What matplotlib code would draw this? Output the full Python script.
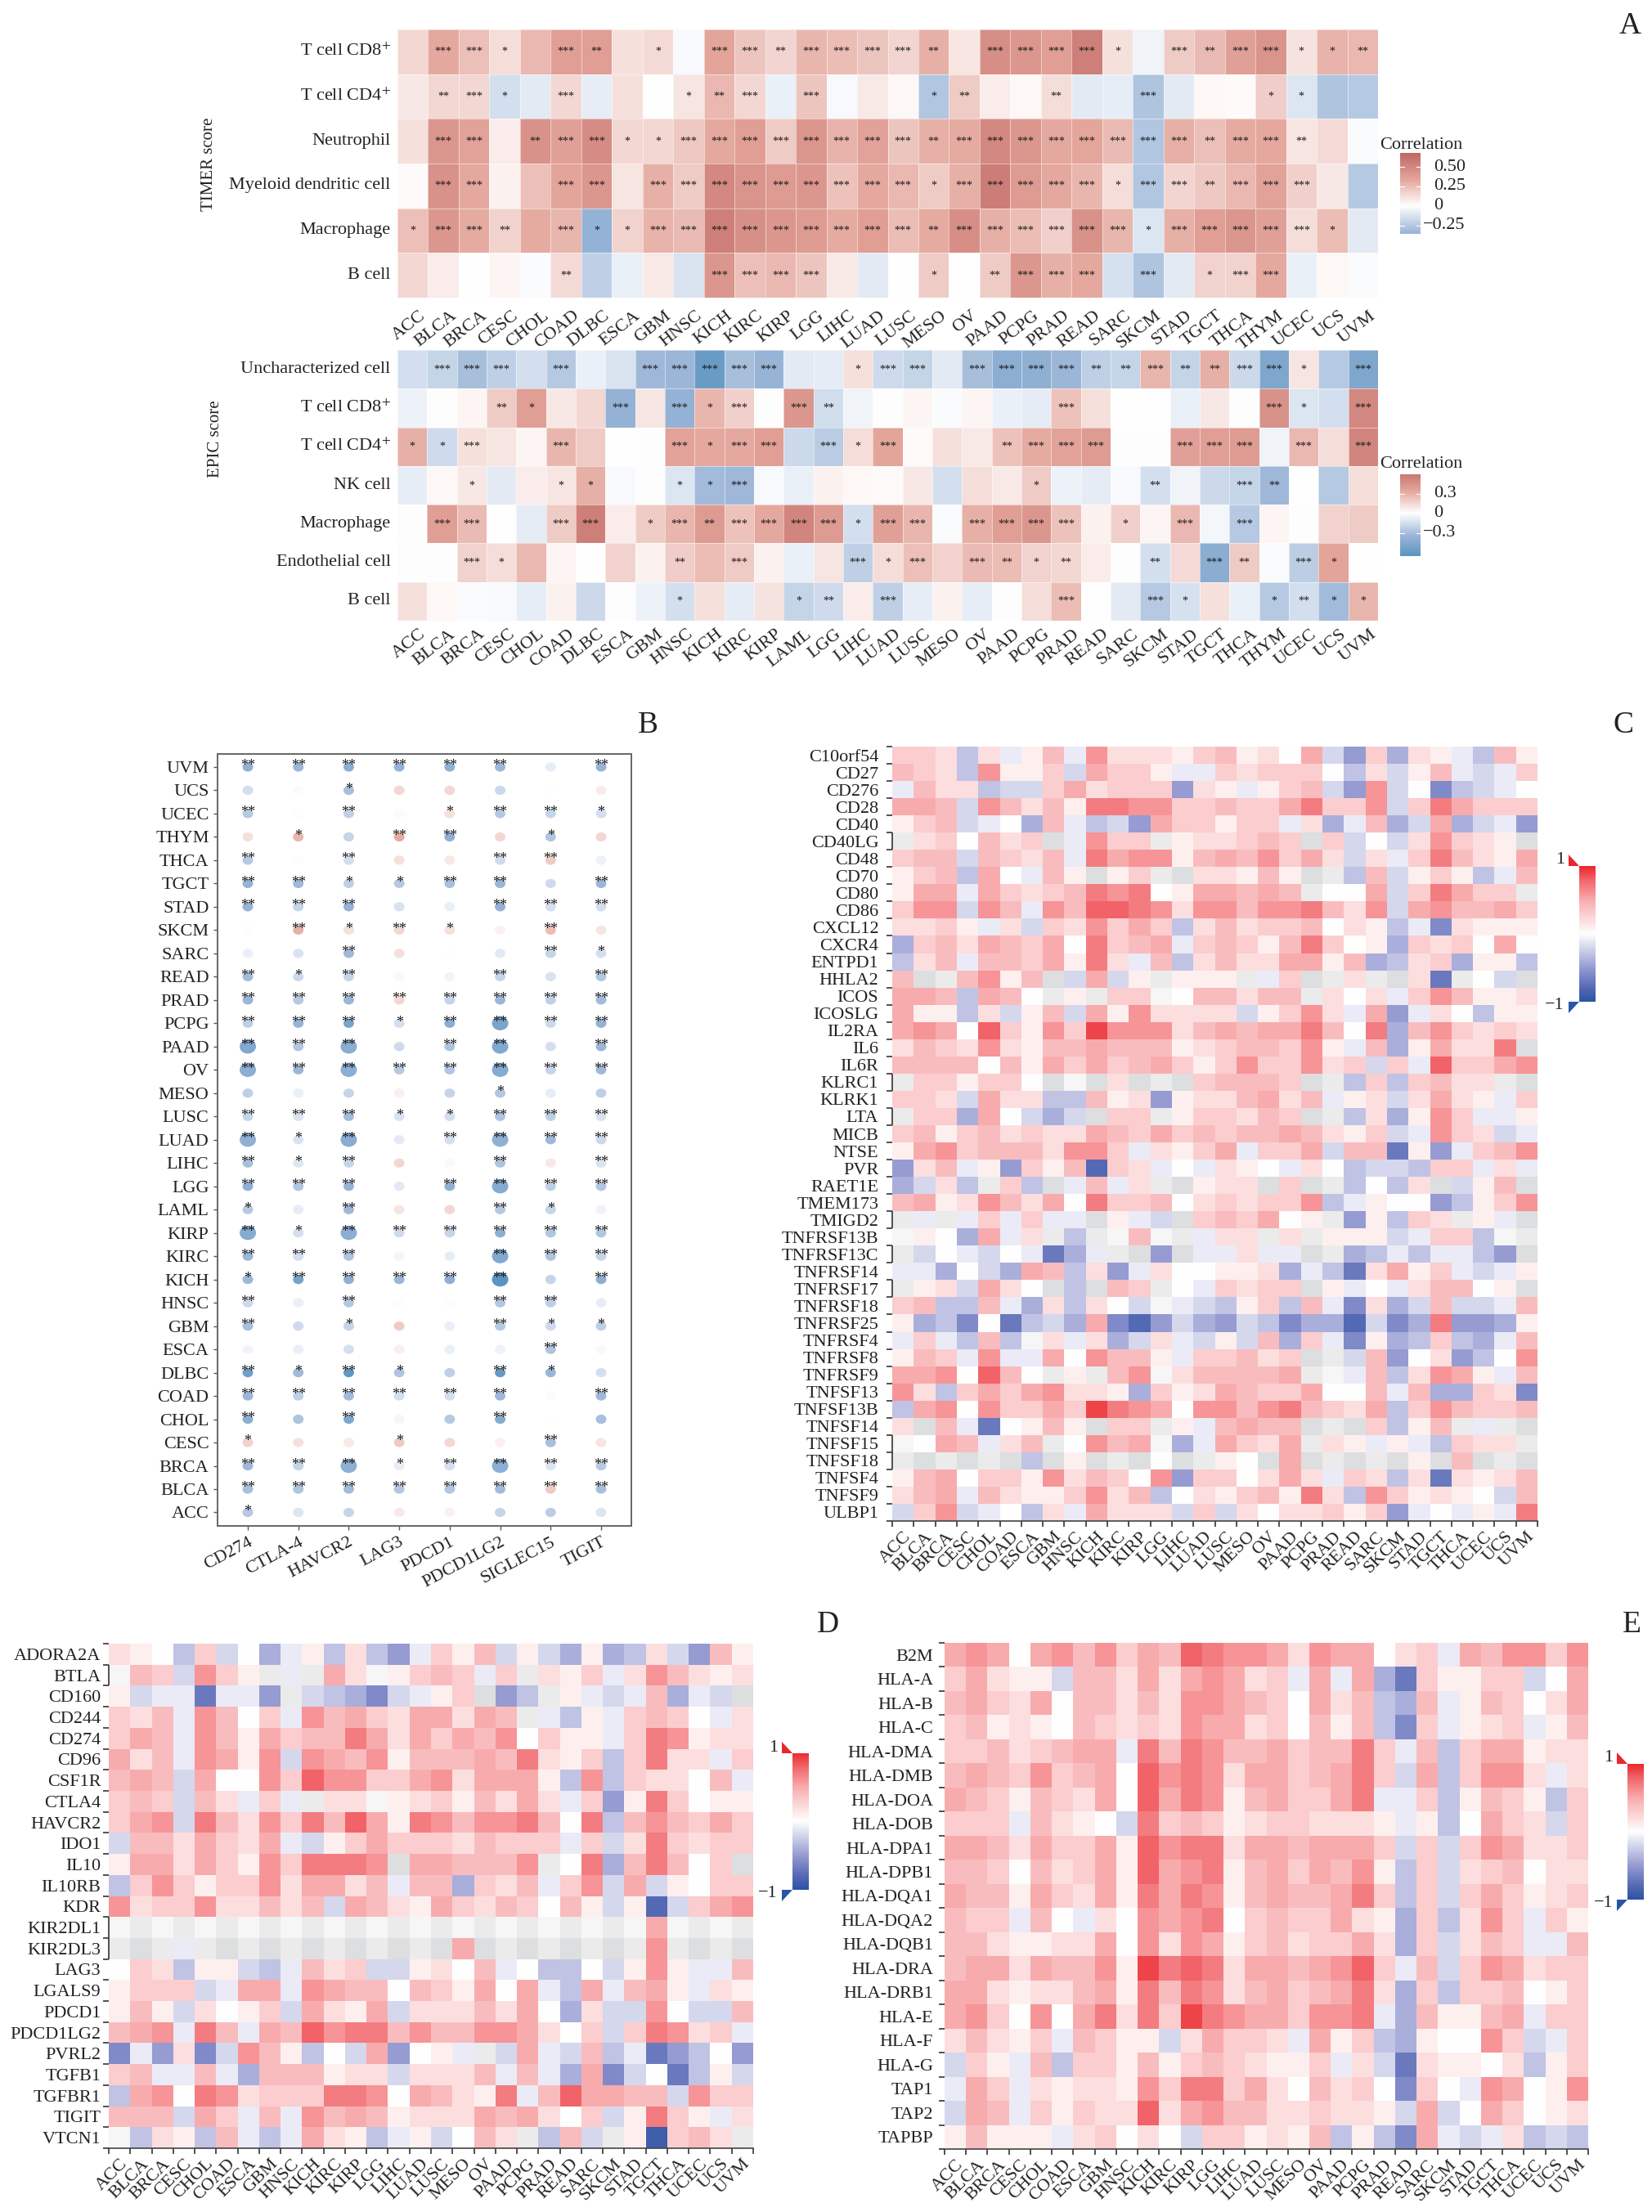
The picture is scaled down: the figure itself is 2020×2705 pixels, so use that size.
import numpy as np
import matplotlib
matplotlib.use("Agg")
import matplotlib.pyplot as plt
from matplotlib.colors import LinearSegmentedColormap, ListedColormap, Normalize
from matplotlib.patches import Polygon
from matplotlib.path import Path
from matplotlib.transforms import Affine2D

plt.rcParams['font.family'] = ['Liberation Serif', 'DejaVu Serif']
plt.rcParams['mathtext.fontset'] = 'stix'

W, H = 2020, 2705
TXT = '#222222'
G1, G2, G3 = 101, 102, 103  # grey (no-data style) cells

# ---------- panel A ----------
timer_cols = "ACC BLCA BRCA CESC CHOL COAD DLBC ESCA GBM HNSC KICH KIRC KIRP LGG LIHC LUAD LUSC MESO OV PAAD PCPG PRAD READ SARC SKCM STAD TGCT THCA THYM UCEC UCS UVM".split()
timer_rows = ['T cell CD8$^{+}$', 'T cell CD4$^{+}$', 'Neutrophil', 'Myeloid dendritic cell', 'Macrophage', 'B cell']
timer_vals = [
 [.15,.33,.24,.13,.27,.38,.38,.12,.14,-.03,.35,.22,.16,.28,.25,.22,.16,.30,.10,.47,.42,.38,.55,.12,-.05,.2,.26,.37,.44,.11,.29,.27],
 [.09,.15,.15,-.15,-.10,.15,-.08,.12,0,.10,.27,.15,-.07,.22,-.03,.08,.03,-.27,.2,.07,.03,.13,-.10,-.08,-.28,-.10,.03,.02,.19,-.12,-.28,-.25],
 [.12,.42,.36,.07,.45,.37,.48,.15,.15,.21,.33,.38,.2,.42,.29,.36,.22,.3,.32,.5,.43,.33,.34,.26,-.27,.3,.24,.32,.33,.1,.14,-.02],
 [.02,.45,.33,.05,.24,.35,.43,.1,.3,.2,.5,.44,.4,.42,.23,.33,.27,.2,.3,.56,.4,.33,.28,.13,-.27,.16,.21,.27,.36,.18,.09,-.25],
 [.24,.42,.32,.17,.32,.28,-.38,.17,.29,.26,.55,.46,.42,.4,.32,.38,.25,.32,.47,.3,.25,.18,.45,.28,-.12,.3,.38,.43,.37,.13,.25,-.1],
 [.15,.07,0,.04,-.02,.14,-.22,-.07,.08,-.13,.43,.24,.27,.22,.08,-.1,0,.2,0,.2,.43,.3,.33,-.14,-.28,-.1,.17,.17,.33,-.07,.03,-.02],
]
timer_stars = [
 [0,3,3,1,0,3,2,0,1,0,3,3,2,3,3,3,3,2,0,3,3,3,3,1,0,3,2,3,3,1,1,2],
 [0,2,3,1,0,3,0,0,0,1,2,3,0,3,0,0,0,1,2,0,0,2,0,0,3,0,0,0,1,1,0,0],
 [0,3,3,0,2,3,3,1,1,3,3,3,3,3,3,3,3,2,3,3,3,3,3,3,3,3,2,3,3,2,0,0],
 [0,3,3,0,0,3,3,0,3,3,3,3,3,3,3,3,3,1,3,3,3,3,3,1,3,3,2,3,3,3,0,0],
 [1,3,3,2,0,3,1,1,3,3,3,3,3,3,3,3,3,2,3,3,3,3,3,3,1,3,3,3,3,3,1,0],
 [0,0,0,0,0,2,0,0,0,0,3,3,3,3,0,0,0,1,0,2,3,3,3,0,3,0,1,3,3,0,0,0],
]
epic_cols = "ACC BLCA BRCA CESC CHOL COAD DLBC ESCA GBM HNSC KICH KIRC KIRP LAML LGG LIHC LUAD LUSC MESO OV PAAD PCPG PRAD READ SARC SKCM STAD TGCT THCA THYM UCEC UCS UVM".split()
epic_rows = ['Uncharacterized cell', 'T cell CD8$^{+}$', 'T cell CD4$^{+}$', 'NK cell', 'Macrophage', 'Endothelial cell', 'B cell']
epic_vals = [
 [-.15,-.2,-.3,-.22,-.15,-.25,-.07,-.13,-.33,-.35,-.58,-.3,-.37,-.1,-.09,.12,-.17,-.2,-.1,-.3,-.42,-.4,-.35,-.22,-.2,.28,-.2,.3,-.18,-.48,.1,-.25,-.48],
 [-.06,-.01,.04,.2,.38,.09,.15,-.38,.1,-.38,.28,.18,.01,.42,-.16,-.05,.01,.04,-.02,.04,-.07,-.09,.23,.12,0,0,-.07,.09,-.01,.45,-.12,-.15,.5],
 [.3,-.17,.12,.1,.04,.28,.2,0,.01,.36,.33,.33,.38,-.18,-.24,.13,.35,.02,.12,.08,.23,.32,.36,.4,.01,.01,.37,.38,.4,-.05,.27,.13,.52],
 [-.08,.03,.09,-.1,.07,.1,.3,-.03,-.01,-.12,-.32,-.33,-.03,-.07,.05,.03,.02,.09,-.15,.13,.08,.2,-.06,-.09,-.03,-.15,-.05,-.18,-.2,-.33,0,-.25,.13],
 [.01,.38,.26,0,-.09,.2,.55,.07,.2,.28,.4,.23,.33,.52,.4,-.15,.37,.28,-.02,.3,.38,.42,.23,.05,.18,.04,.27,-.04,-.25,.04,-.01,.17,.2],
 [.01,.01,.17,.13,.27,.04,0,.17,.05,.19,.25,.2,.05,-.07,.1,-.22,.13,.24,.17,.26,.25,.17,.15,.07,-.01,-.15,.14,-.43,.2,-.02,-.23,.35,0],
 [.12,.03,-.02,-.03,-.08,.05,-.18,.01,-.06,-.15,.12,-.09,.11,-.2,-.17,.07,-.22,-.08,.05,-.08,.01,.13,.25,0,-.1,-.25,-.14,.12,-.07,-.25,-.15,-.32,.28],
]
epic_stars = [
 [0,3,3,3,0,3,0,0,3,3,3,3,3,0,0,1,3,3,0,3,3,3,3,2,2,3,2,2,3,3,1,0,3],
 [0,0,0,2,1,0,0,3,0,3,1,3,0,3,2,0,0,0,0,0,0,0,3,0,0,0,0,0,0,3,1,0,3],
 [1,1,3,0,0,3,0,0,0,3,1,3,3,0,3,1,3,0,0,0,2,3,3,3,0,0,3,3,3,0,3,0,3],
 [0,0,1,0,0,1,1,0,0,1,1,3,0,0,0,0,0,0,0,0,0,1,0,0,0,2,0,0,3,2,0,0,0],
 [0,3,3,0,0,3,3,0,1,3,2,3,3,3,3,1,3,3,0,3,3,3,3,0,1,0,3,0,3,0,0,0,0],
 [0,0,3,1,0,0,0,0,0,2,0,3,0,0,0,3,1,3,0,3,2,1,2,0,0,2,0,3,2,0,3,1,0],
 [0,0,0,0,0,0,0,0,0,1,0,0,0,1,2,0,3,0,0,0,0,0,3,0,0,3,1,0,0,1,2,1,1],
]

# ---------- panel B ----------
b_rows = "UVM UCS UCEC THYM THCA TGCT STAD SKCM SARC READ PRAD PCPG PAAD OV MESO LUSC LUAD LIHC LGG LAML KIRP KIRC KICH HNSC GBM ESCA DLBC COAD CHOL CESC BRCA BLCA ACC".split()
b_cols = ['CD274', 'CTLA-4', 'HAVCR2', 'LAG3', 'PDCD1', 'PDCD1LG2', 'SIGLEC15', 'TIGIT']
b_vals = [
 [-.4,-.35,-.42,-.38,-.4,-.33,-.08,-.37],
 [-.15,-.02,-.3,.15,.15,-.18,0,.07],
 [-.25,-.01,-.22,.02,.12,-.25,-.2,-.15],
 [.12,.28,-.2,.32,-.4,.15,-.27,.15],
 [-.25,-.01,-.15,.12,.08,-.17,.2,-.06],
 [-.37,-.33,-.22,-.25,-.3,-.35,-.17,-.35],
 [-.37,-.2,-.37,-.13,-.07,-.38,-.15,-.15],
 [-.01,.3,.12,.15,.12,.05,.25,.1],
 [-.07,-.13,-.33,.12,0,-.1,-.2,-.15],
 [-.32,-.18,-.2,.03,.05,-.2,-.13,-.27],
 [-.35,-.25,-.35,.15,-.2,-.35,-.22,-.32],
 [-.22,-.37,-.5,-.15,-.42,-.5,-.18,-.38],
 [-.47,-.27,-.43,-.17,-.28,-.47,-.15,-.35],
 [-.42,-.35,-.42,-.25,-.27,-.45,-.2,-.33],
 [-.22,-.07,-.2,.06,-.2,-.27,-.08,-.22],
 [-.2,-.13,-.32,-.13,-.15,-.28,-.22,-.13],
 [-.4,-.13,-.43,-.1,-.15,-.4,-.33,-.18],
 [-.3,-.12,-.2,.15,-.03,-.28,.08,-.13],
 [-.4,-.27,-.37,-.1,-.4,-.45,-.22,-.27],
 [-.25,-.08,-.33,.1,.15,-.25,-.2,-.05],
 [-.45,-.15,-.42,-.17,-.2,-.42,-.27,-.27],
 [-.35,-.15,-.28,-.04,-.08,-.47,-.28,-.2],
 [-.33,-.52,-.4,-.35,-.4,-.65,-.2,-.42],
 [-.18,-.07,-.25,.01,.01,-.27,-.22,-.08],
 [-.3,-.17,-.2,.2,-.07,-.25,-.17,-.22],
 [-.05,-.07,-.15,.06,-.07,-.06,-.28,-.03],
 [-.55,-.32,-.62,-.28,-.22,-.6,-.35,-.15],
 [-.35,-.22,-.32,-.15,-.15,-.33,-.02,-.33],
 [-.42,-.28,-.47,-.04,-.25,-.45,0,-.3],
 [.17,.12,.08,.2,.15,.05,-.3,.1],
 [-.33,-.2,-.4,-.08,-.15,-.42,-.12,-.25],
 [-.3,-.28,-.32,-.27,-.27,-.32,.2,-.3],
 [-.25,-.12,-.2,.08,.05,-.2,-.23,-.12],
]
b_stars = [
 [2,2,2,2,2,2,0,2],[0,0,1,0,0,0,0,0],[2,0,2,0,1,2,2,1],[0,1,0,2,2,0,1,0],[2,0,2,0,0,2,2,0],
 [2,2,1,1,2,2,0,2],[2,2,2,0,0,2,2,2],[0,2,1,2,1,0,2,0],[0,0,2,0,0,0,2,1],[2,1,2,0,0,2,0,2],
 [2,2,2,2,2,2,2,2],[2,2,2,1,2,2,2,2],[2,2,2,0,2,2,0,2],[2,2,2,2,2,2,2,2],[0,0,0,0,0,1,0,0],
 [2,2,2,1,1,2,2,2],[2,1,2,0,2,2,2,2],[2,1,2,0,0,2,0,2],[2,2,2,0,2,2,2,2],[1,0,2,0,0,2,1,0],
 [2,1,2,2,2,2,2,2],[2,2,2,0,0,2,2,2],[1,2,2,2,2,2,0,2],[2,0,2,0,0,2,2,0],[2,0,1,0,0,2,1,1],
 [0,0,0,0,0,0,2,0],[2,1,2,1,0,2,1,0],[2,2,2,2,2,2,0,2],[2,0,2,0,0,2,0,0],[1,0,0,1,0,0,2,0],
 [2,2,2,1,2,2,2,2],[2,2,2,2,2,2,2,2],[1,0,0,0,0,0,0,0],
]
b_large = {'PAAD': ['CD274', 'HAVCR2', 'PDCD1LG2'], 'OV': ['CD274', 'HAVCR2', 'PDCD1LG2'],
           'LUAD': ['CD274', 'HAVCR2', 'PDCD1LG2'], 'KIRP': ['CD274', 'HAVCR2'],
           'PCPG': ['PDCD1LG2'], 'LGG': ['PDCD1LG2'], 'KIRC': ['PDCD1LG2'], 'KICH': ['PDCD1LG2'],
           'BRCA': ['HAVCR2', 'PDCD1LG2']}

# ---------- panels C, D, E ----------
tumors = "ACC BLCA BRCA CESC CHOL COAD ESCA GBM HNSC KICH KIRC KIRP LGG LIHC LUAD LUSC MESO OV PAAD PCPG PRAD READ SARC SKCM STAD TGCT THCA UCEC UCS UVM".split()
c_rows = "C10orf54 CD27 CD276 CD28 CD40 CD40LG CD48 CD70 CD80 CD86 CXCL12 CXCR4 ENTPD1 HHLA2 ICOS ICOSLG IL2RA IL6 IL6R KLRC1 KLRK1 LTA MICB NTSE PVR RAET1E TMEM173 TMIGD2 TNFRSF13B TNFRSF13C TNFRSF14 TNFRSF17 TNFRSF18 TNFRSF25 TNFRSF4 TNFRSF8 TNFRSF9 TNFSF13 TNFSF13B TNFSF14 TNFSF15 TNFSF18 TNFSF4 TNFSF9 ULBP1".split()
c_vals = [
 [3,3,2,-3,2,-1,1,4,-1,6,2,2,2,1,3,4,1,2,0,5,-2,-5,3,-4,2,1,-1,-3,4,1],
 [4,3,2,-3,6,1,1,3,-2,5,3,3,1,-1,-1,3,2,3,3,3,0,-3,2,-2,1,4,-1,-2,-1,3],
 [-1,4,2,2,-3,-2,-2,3,5,2,3,3,3,-5,2,1,-1,1,3,4,-2,-5,6,-2,0,-6,-3,-2,-1,0],
 [5,5,4,-2,6,4,2,4,1,7,7,6,6,3,3,4,3,3,5,7,3,3,6,-2,3,7,5,3,3,3],
 [1,3,4,-2,-1,0,-4,4,-1,-3,-2,-5,5,3,3,1,3,3,-1,2,-4,-1,4,-4,-2,5,-4,-2,-1,-5],
 [G2,2,3,0,4,2,3,G3,-1,6,3,3,G2,1,2,2,3,4,3,G3,3,-2,0,-2,2,6,3,2,1,G3],
 [3,4,4,-2,4,3,2,4,-1,7,5,6,6,1,4,5,4,6,3,5,2,-2,2,-1,3,7,4,2,1,5],
 [1,3,4,-3,5,0,-1,4,1,G3,1,3,G2,G3,2,2,1,4,1,G3,G2,-3,4,-2,1,3,1,-3,-1,4],
 [1,5,5,-1,5,3,2,3,4,7,6,7,0,1,5,5,4,5,4,G2,0,0,5,-2,3,7,5,3,3,G2],
 [3,6,6,-2,6,4,-1,6,4,8,8,7,6,2,6,6,4,6,6,7,4,2,6,-2,5,6,4,4,5,3],
 [2,2,3,1,-1,2,-2,3,2,6,3,5,3,-3,2,4,2,3,3,4,0,2,1,-3,-1,-6,2,1,1,1],
 [-4,3,4,2,5,4,3,5,0,7,3,4,5,-1,3,4,3,1,4,7,3,0,1,-4,3,2,3,0,5,0],
 [-3,2,4,-1,4,4,3,5,1,7,2,-1,4,-3,2,4,2,2,5,5,1,4,-4,-3,2,3,-4,1,1,-3],
 [4,G3,G2,4,6,1,4,G3,-2,5,-2,1,G2,1,1,1,G2,-1,3,G3,G2,2,G2,G3,2,-7,G2,0,-2,G3],
 [5,5,4,-3,5,4,0,G2,1,G2,3,3,G1,0,4,4,2,4,4,G2,2,0,2,-1,3,6,4,1,1,2],
 [5,1,1,-3,2,-2,1,4,-2,5,1,6,2,2,2,2,-2,1,3,6,2,-1,5,-5,-1,2,0,-3,1,1],
 [5,6,5,0,8,3,1,6,3,9,6,6,6,2,4,5,4,5,5,7,4,0,7,-4,4,6,3,2,3,2],
 [2,4,3,2,6,2,1,4,4,5,4,4,4,1,2,3,4,4,3,6,1,-1,4,-4,1,5,2,2,7,G3],
 [4,4,4,4,0,4,1,5,3,5,3,4,5,3,1,3,6,3,3,6,2,3,-2,3,-1,8,3,3,5,6],
 [G2,3,3,1,3,3,0,G3,G1,G3,2,G3,G2,G3,3,4,4,4,3,G3,G2,-3,3,-3,3,4,2,2,G2,G3],
 [3,3,2,-2,5,2,2,-3,-3,4,1,2,-5,1,2,2,4,5,2,4,-1,1,2,-2,2,5,2,1,-1,3],
 [G2,3,3,-4,5,0,-2,-4,-2,G3,3,3,G2,1,3,3,2,4,3,G3,G2,-3,2,-4,1,6,3,-1,-1,1],
 [3,4,1,3,4,2,3,2,2,5,4,3,5,3,4,3,4,4,5,4,2,1,3,-2,-1,6,3,2,-2,-1],
 [1,5,6,3,4,4,4,2,6,6,3,-1,2,1,3,5,-1,3,3,5,-2,4,4,-7,1,-5,-1,3,4,6],
 [-5,2,4,-1,1,-5,3,1,4,-8,3,2,-1,0,-1,2,1,0,-1,2,0,-3,-2,-2,-3,3,3,-1,2,-1],
 [-4,-2,2,-3,G2,3,-3,G3,-1,4,-1,2,G2,G3,1,2,2,G3,3,G3,G2,-3,0,-3,2,G3,-2,1,4,G3],
 [4,5,1,2,6,4,2,5,0,7,3,3,4,0,2,3,2,3,3,6,-3,-1,1,0,0,-5,-3,1,3,6],
 [G2,-1,G2,-1,3,-1,3,-1,-1,G3,1,-1,-2,G3,3,4,3,5,0,1,G2,-5,1,-3,3,2,G2,1,-1,G3],
 [G1,1,0,-4,5,-1,2,G2,-3,G2,G1,4,G1,G2,-1,2,2,G2,2,G2,1,1,1,-2,-1,3,3,-3,G1,G2],
 [G2,-2,0,-1,-2,0,-1,-7,-4,-1,G2,G3,-5,G3,-1,-1,2,-1,-1,G3,G2,-4,-3,-1,-3,-1,-1,-3,-5,G3],
 [-1,-1,-4,0,-2,-4,5,4,-3,2,-5,-1,2,0,0,1,1,2,-4,-1,-3,-7,2,5,1,3,-1,-2,-1,1],
 [G2,1,2,-2,5,2,0,G3,-3,G3,4,3,G2,0,-1,3,2,3,3,G3,1,-1,0,-1,2,4,4,0,1,G3],
 [3,4,-3,-3,4,-1,-4,2,-3,2,0,-2,G1,-1,-2,-3,1,3,-3,4,-1,-6,2,-4,-2,4,-2,-2,-1,4],
 [1,-4,-3,-6,0,-7,-3,-2,-4,5,-6,-8,-5,-2,-4,-5,-2,-3,-6,-4,-4,-8,-2,-6,-4,7,-5,-5,-4,1],
 [-1,3,-1,-3,4,-3,G1,2,-1,2,-4,-2,2,-1,-2,1,-2,4,-4,3,-1,-6,1,-4,-3,3,-3,-4,-1,4],
 [1,4,3,-1,6,-1,-1,5,0,6,4,4,1,-1,3,3,4,2,3,G3,G2,-2,4,-5,0,2,-5,-3,0,6],
 [5,5,6,0,8,4,0,G2,1,G2,4,6,G1,2,4,4,4,4,5,G2,G1,-1,4,-3,2,6,5,1,-1,4],
 [6,2,-3,3,5,3,5,6,2,2,1,-4,3,1,2,5,4,3,3,5,0,0,4,-1,4,-4,-4,3,2,-6],
 [-3,5,6,0,6,3,3,5,3,9,7,6,5,0,6,6,4,6,7,4,3,2,5,-3,3,6,4,3,3,4],
 [2,G3,4,-1,-7,0,1,4,1,G3,3,3,G2,1,-1,4,5,4,4,G3,G2,G3,3,-3,1,4,G2,-1,G2,G3],
 [G1,0,5,4,-1,2,4,G2,0,6,4,5,G1,-4,-1,5,3,2,5,G2,2,1,-1,1,-1,-3,3,2,2,G2],
 [G2,G3,G2,G3,G2,G3,-3,G3,1,G3,G2,G3,0,G3,G2,1,0,G3,5,G3,G2,G3,G2,G3,1,G3,4,G3,G2,G3],
 [1,4,5,0,3,3,1,6,2,4,3,0,6,-5,3,3,0,2,5,2,-1,3,2,-3,2,-7,2,1,2,4],
 [2,4,5,-1,4,2,1,1,3,6,2,4,-3,0,2,1,3,4,1,7,2,-3,6,3,1,2,1,0,-2,4],
 [-2,3,6,-2,-1,0,-3,2,-1,5,2,2,2,-2,3,-2,2,0,2,2,3,1,3,-5,-1,0,-1,1,-1,7],
]
c_bracket = ['CD40LG', 'KLRC1', 'LTA', 'TMIGD2', 'TNFRSF13C', 'TNFRSF17', 'TNFSF15', 'TNFSF18']

d_rows = "ADORA2A BTLA CD160 CD244 CD274 CD96 CSF1R CTLA4 HAVCR2 IDO1 IL10 IL10RB KDR KIR2DL1 KIR2DL3 LAG3 LGALS9 PDCD1 PDCD1LG2 PVRL2 TGFB1 TGFBR1 TIGIT VTCN1".split()
d_vals = [
 [2,1,0,-3,3,-2,0,-4,-1,1,-3,2,-3,-5,-1,3,1,4,-2,1,-2,-4,1,-4,-3,2,-2,-5,4,1],
 [G1,4,3,-2,6,3,1,G2,-1,G2,5,2,G1,1,3,4,3,-1,3,G2,2,1,3,-1,2,6,4,2,1,2],
 [1,-2,-1,-1,-7,-1,-1,-5,G2,-2,-3,-4,-6,-2,-1,1,3,G3,-5,-3,G2,1,-1,-2,-1,4,-4,-1,-2,G3],
 [3,2,4,-1,6,4,0,3,-1,6,4,5,3,2,5,5,2,5,4,G2,-1,-3,1,-1,3,4,3,0,-1,2],
 [3,5,4,-1,6,4,1,5,3,4,4,7,5,2,5,3,5,4,6,0,3,1,1,-1,3,7,6,1,2,2],
 [5,2,4,-1,6,5,1,6,-2,6,5,4,6,1,4,4,4,5,4,7,2,1,3,-3,3,7,2,2,-1,3],
 [4,5,4,-2,5,0,0,6,3,8,6,6,3,3,5,6,2,5,5,5,1,-3,6,-3,3,2,2,0,4,-1],
 [3,4,3,-2,4,2,-1,3,-1,G2,2,2,G1,1,2,3,1,4,2,5,2,-1,3,-5,1,7,3,0,1,1],
 [3,5,6,-2,7,4,2,6,3,7,4,8,5,1,7,6,4,6,6,7,4,0,7,-3,4,6,4,3,5,3],
 [-2,4,4,2,5,3,2,5,-1,-2,1,3,5,3,3,3,2,4,3,3,3,-1,3,-2,2,7,3,2,3,3],
 [1,5,5,2,5,3,1,6,3,7,7,7,6,G3,5,5,4,4,4,6,G2,0,7,-4,4,7,4,0,3,G3],
 [-3,3,6,3,1,3,3,6,2,5,5,2,4,-1,4,4,-4,3,2,4,-1,3,6,-2,5,-2,1,0,3,3],
 [6,2,3,3,6,2,2,4,2,4,-2,5,4,2,1,5,3,2,4,3,0,4,1,-2,1,-8,-2,3,5,6],
 [G1,G2,G1,G2,G1,G2,G1,G2,G1,G2,G1,G2,G1,G2,G1,G2,G1,G2,G1,G2,G1,G2,G1,G2,G1,5,G1,G2,G1,G2],
 [G2,G3,G2,-1,G2,G3,G2,G3,G2,G3,G2,G3,G2,G3,G2,G3,5,G3,G2,G3,G2,G3,G2,G3,G2,6,G2,G3,G2,G3],
 [0,3,2,-3,1,1,-2,-3,-1,4,2,3,-2,-2,1,2,0,4,-1,0,-3,-3,0,-2,1,6,1,-1,-1,4],
 [1,3,3,3,-2,-1,5,5,-1,6,5,4,4,0,4,3,1,5,0,5,-1,-3,5,-1,4,5,1,-1,2,1],
 [1,4,1,-2,2,0,1,3,-2,5,2,1,5,-2,2,2,2,4,2,5,0,-4,2,-2,-2,6,0,-2,-2,4],
 [4,5,6,-1,7,4,-1,5,4,8,6,7,7,4,6,4,4,6,6,5,2,0,3,-2,3,7,6,2,3,-1],
 [-6,-1,-5,2,-6,-2,6,4,1,-3,0,-2,5,-5,0,1,-1,G2,-2,5,-1,-2,4,-3,-1,-7,-5,-3,0,-5],
 [3,4,-1,-1,4,-1,-4,4,4,4,1,2,2,-2,2,2,2,4,-1,4,-1,-4,5,-6,-2,0,-7,-3,1,-2],
 [-3,5,6,0,7,6,2,3,3,3,7,7,6,0,5,4,2,1,7,-1,4,8,5,5,4,4,-2,6,3,3],
 [4,4,4,-2,5,3,-1,4,-1,6,4,5,4,1,2,2,2,5,4,5,2,0,3,-2,1,7,3,1,-1,2],
 [G1,-3,2,1,-3,4,-1,-3,-1,5,2,1,-3,-1,1,-2,0,4,2,G2,-3,4,-2,G2,1,-9,3,4,2,G2],
]
d_bracket = ['BTLA', 'KIR2DL1', 'KIR2DL3']

e_rows = "B2M HLA-A HLA-B HLA-C HLA-DMA HLA-DMB HLA-DOA HLA-DOB HLA-DPA1 HLA-DPB1 HLA-DQA1 HLA-DQA2 HLA-DQB1 HLA-DRA HLA-DRB1 HLA-E HLA-F HLA-G TAP1 TAP2 TAPBP".split()
e_vals = [
 [5,6,5,0,5,6,4,6,3,5,4,8,7,6,6,5,2,6,5,5,0,2,3,-1,5,4,6,6,3,6],
 [3,5,2,1,1,-2,4,4,2,5,2,5,6,5,2,3,-1,5,-1,5,-4,-7,3,1,1,3,3,-2,0,5],
 [4,5,3,2,5,0,4,4,2,4,2,6,6,5,4,3,0,5,2,4,-3,-4,4,-1,1,4,3,0,2,5],
 [3,4,1,2,1,0,4,3,2,3,2,6,5,5,2,3,0,4,1,4,-3,-6,3,-1,1,2,3,-1,1,4],
 [3,3,4,2,3,4,5,5,-1,7,4,7,6,4,4,5,3,4,4,7,3,-1,4,-3,3,5,5,1,2,2],
 [4,5,4,3,6,3,4,5,0,8,6,7,6,2,5,5,3,4,5,7,3,-2,5,-3,3,6,6,2,-1,2],
 [5,4,3,1,4,3,2,5,0,8,5,7,6,1,4,5,3,3,5,7,-1,-1,3,-3,1,4,3,1,-3,3],
 [3,3,3,-1,4,2,1,0,-2,7,3,4,3,1,2,3,3,2,2,2,1,-1,1,-3,0,5,3,2,-2,3],
 [5,5,4,2,5,3,3,5,1,8,6,7,7,2,5,5,4,5,5,5,3,-2,3,-2,3,6,5,2,2,3],
 [4,4,3,0,4,2,3,5,1,8,5,6,7,1,4,5,3,5,4,6,1,-3,3,-2,2,3,4,0,2,2],
 [5,4,4,1,5,3,2,5,1,7,5,7,6,1,4,5,4,4,5,7,3,-3,3,-2,3,5,3,1,2,3],
 [4,3,3,-1,4,0,-1,2,0,6,5,6,7,0,3,4,3,3,5,2,1,-4,3,-3,2,6,3,-1,3,1],
 [4,4,2,1,1,2,2,5,0,6,2,6,5,1,3,4,2,3,3,5,2,-4,3,-2,2,4,3,-1,-1,4],
 [4,5,5,2,5,4,4,6,1,9,7,8,7,2,5,5,4,5,6,8,3,-1,4,-2,3,6,5,2,3,3],
 [5,5,2,1,2,2,4,5,1,7,4,7,6,2,4,5,3,4,5,7,2,-4,3,-3,3,3,4,0,1,3],
 [5,6,3,0,6,0,5,7,2,7,3,9,7,6,5,5,3,6,6,7,-1,-4,4,1,1,4,5,-1,3,3],
 [2,4,2,1,3,-1,4,3,1,1,-2,2,5,3,3,2,-1,5,1,3,-3,-4,1,0,0,6,3,-2,-1,3],
 [-2,3,1,-1,4,-3,3,3,1,4,1,3,4,3,2,1,1,3,-1,2,-2,-7,2,1,1,0,2,-3,1,3],
 [-1,5,3,-1,2,1,2,2,1,6,3,7,7,3,5,2,0,4,2,3,0,-6,3,0,-1,6,5,0,1,6],
 [-2,5,4,-1,3,1,3,2,2,8,2,5,6,4,4,2,2,3,2,2,1,-2,5,-2,0,5,3,0,1,2],
 [1,4,1,1,1,-1,2,3,0,2,0,-2,3,3,1,2,1,4,-3,1,-3,-6,5,-1,-2,-1,2,-3,-2,-3],
]

# ---------- colour maps ----------
cor_cmap = LinearSegmentedColormap.from_list('cor', [
    (0.0, (85/255, 145/255, 190/255)), (0.25, (157/255, 183/255, 216/255)), (0.5, 'white'),
    (0.75, (228/255, 166/255, 156/255)), (1.0, (192/255, 104/255, 100/255))])
cor_norm = Normalize(-0.68, 0.68)
exp_cmap = LinearSegmentedColormap.from_list('exp', [
    (0.0, (42/255, 85/255, 165/255)), (0.1, (85/255, 105/255, 180/255)), (0.25, (150/255, 155/255, 210/255)),
    (0.5, 'white'), (0.75, (248/255, 172/255, 174/255)), (0.9, (241/255, 100/255, 105/255)),
    (1.0, (235/255, 40/255, 45/255))])
exp_norm = Normalize(-1, 1)
grey_cmap = ListedColormap(['#f6f6f6', '#ebebeb', '#dddedf'])

fig = plt.figure(figsize=(W/100, H/100), dpi=100, facecolor='white')


def axpx(x0, y0, x1, y1):
    return fig.add_axes([x0/W, 1-y1/H, (x1-x0)/W, (y1-y0)/H])


def txt(x, y, s, **kw):
    kw.setdefault('color', TXT)
    fig.text(x/W, 1-y/H, s, **kw)


def stars_on(ax, x, y, n, size, up):
    if n:
        ax.annotate('*'*n, (x, y), xytext=(0, -size*0.46+up), textcoords='offset points',
                    ha='center', va='baseline', fontsize=size, color='#1a1a1a', annotation_clip=False)


def corr_panel(box, cols, rows, vals, stars, xpad, cb, cb_ticks, cb_range, title_y, side, side_xy):
    ax = axpx(*box)
    arr = np.array(vals, float)
    ax.pcolormesh(arr, cmap=cor_cmap, norm=cor_norm, edgecolors=(1, 1, 1, 0.5), linewidth=0.7)
    ax.set_xlim(0, arr.shape[1]); ax.set_ylim(arr.shape[0], 0)
    ax.set_xticks(np.arange(arr.shape[1])+0.5, cols, rotation=38, ha='right', va='top', rotation_mode='anchor', fontsize=16, color=TXT)
    ax.set_yticks(np.arange(arr.shape[0])+0.5, rows, fontsize=16, color=TXT)
    ax.tick_params(length=0, axis='y', pad=6)
    ax.tick_params(length=0, axis='x', pad=xpad)
    for lab in ax.get_xticklabels():
        lab.set_transform(lab.get_transform() + Affine2D().translate(8, 0))
    for lab in ax.get_yticklabels():
        lab.set_transform(lab.get_transform() + Affine2D().translate(0, 3))
    for s in ax.spines.values():
        s.set_visible(False)
    for r, row in enumerate(stars):
        for c, n in enumerate(row):
            stars_on(ax, c+0.5, r+0.5, n, 10, 2)
    cax = axpx(*cb)
    g = np.linspace(cb_range[1], cb_range[0], 200)[:, None]
    cax.imshow(g, cmap=cor_cmap, norm=cor_norm, aspect='auto', extent=[0, 1, cb_range[0], cb_range[1]])
    cax.set_xticks([]); cax.set_yticks([])
    for s in cax.spines.values():
        s.set_visible(False)
    for v, lab in cb_ticks:
        cax.plot([0, .2], [v, v], color='white', lw=.8); cax.plot([.8, 1], [v, v], color='white', lw=.8)
        cax.text(1.65 if v >= 0 else 1.1, v, lab, va='center', ha='left', fontsize=16, color=TXT)
    cax.set_xlim(0, 1); cax.set_ylim(*cb_range)
    txt(cb[0]-25, title_y, 'Correlation', fontsize=16, va='center', ha='left')
    txt(side_xy[0], side_xy[1], side, fontsize=15, rotation=90, va='center', ha='center')


corr_panel((486, 36, 1685, 364), timer_cols, timer_rows, timer_vals, timer_stars, 9,
           (1712, 187, 1737, 286), [(.5, '0.50'), (.25, '0.25'), (0, '0'), (-.25, '\u22120.25')], (-.36, .68),
           177, 'TIMER score', (255, 201))
corr_panel((486, 428, 1685, 759), epic_cols, epic_rows, epic_vals, epic_stars, 5,
           (1712, 580, 1737, 680), [(.3, '0.3'), (0, '0'), (-.3, '\u22120.3')], (-.65, .6),
           568, 'EPIC score', (264, 537))

# ---------- panel B ----------
ax = axpx(266, 922, 772, 1866)
bv = np.array(b_vals)
xx, yy = np.meshgrid(np.arange(8), np.arange(len(b_rows)))
sizes = np.full(bv.shape, 13.0)
for t, genes in b_large.items():
    for g in genes:
        sizes[b_rows.index(t), b_cols.index(g)] = 20.0
ell = Path.unit_circle().transformed(Affine2D().scale(1, 0.87))
ax.scatter(xx.ravel(), yy.ravel(), c=bv.ravel(), cmap=cor_cmap, norm=cor_norm,
           s=(sizes.ravel()*0.72)**2, marker=ell, linewidths=0)
ax.set_xlim(-0.6, 7.6); ax.set_ylim(len(b_rows)-1+0.58, -0.56)
ax.set_xticks(range(8), b_cols, rotation=28, ha='right', va='top', rotation_mode='anchor', fontsize=16, color=TXT)
ax.set_yticks(range(len(b_rows)), b_rows, fontsize=16, color=TXT)
ax.tick_params(length=3.5, width=1, color='#555555', pad=4)
for s in ax.spines.values():
    s.set_color('#666666'); s.set_linewidth(1.4)
for r, row in enumerate(b_stars):
    for c, n in enumerate(row):
        stars_on(ax, c, r, n, 13, 3.5)


# ---------- heat maps C, D, E ----------
def expr_panel(box, rows, vals, bracket, cb, ypad):
    ax = axpx(*box)
    arr = np.array(vals, float)
    colour = np.ma.masked_where(arr > 100, arr/10)
    grey = np.ma.masked_where(arr <= 100, arr-101)
    ax.pcolormesh(colour, cmap=exp_cmap, norm=exp_norm)
    ax.pcolormesh(grey, cmap=grey_cmap, vmin=-.5, vmax=2.5)
    nr, nc = arr.shape
    ax.set_xlim(0, nc); ax.set_ylim(nr, 0)
    ax.set_xticks(np.arange(nc+1)); ax.set_xticklabels([])
    ax.set_yticks(np.arange(nr+1)); ax.set_yticklabels([])
    ax.set_xticks(np.arange(nc)+0.5, tumors, minor=True, rotation=45, ha='right', va='top',
                  rotation_mode='anchor', fontsize=16, color=TXT)
    ax.set_yticks(np.arange(nr)+0.5, rows, minor=True, fontsize=16, color=TXT)
    ax.tick_params(which='major', length=5, width=1.2, color='#333333')
    ax.tick_params(which='minor', length=0, axis='y', pad=ypad)
    ax.tick_params(which='minor', length=0, axis='x', pad=7)
    for k, s in ax.spines.items():
        s.set_visible(k == 'bottom')
    ax.spines['bottom'].set_color('#444444'); ax.spines['bottom'].set_linewidth(1.2)
    for b in bracket:
        r = rows.index(b)
        ax.vlines(0, r, r+1, color='#333333', lw=1.2, clip_on=False, zorder=5)
    x0, y0, x1, y1 = cb
    cax = axpx(*cb)
    g = np.linspace(1, -1, 256)[:, None]
    cax.imshow(g, cmap=exp_cmap, norm=exp_norm, aspect='auto')
    cax.set_xticks([]); cax.set_yticks([])
    for s in cax.spines.values():
        s.set_visible(False)
    tw, th = 13, 14
    T = lambda x, y: (x/W, 1-y/H)
    fig.add_artist(Polygon([T(x0-tw, y0-th), T(x0-tw, y0), T(x0, y0)], closed=True, transform=fig.transFigure,
                           facecolor='#e8282e', edgecolor='none'))
    fig.add_artist(Polygon([T(x0-tw, y1), T(x0, y1), T(x0-tw, y1+th)], closed=True, transform=fig.transFigure,
                           facecolor='#2a55a5', edgecolor='none'))
    txt(x0-tw-5, y0-7, '1', fontsize=16, ha='right', va='center')
    txt(x0-tw-5, y1+5, '\u22121', fontsize=16, ha='right', va='center')


expr_panel((1091, 913, 1880, 1860), c_rows, c_vals, c_bracket, (1931, 1059, 1951, 1225), 12)
expr_panel((133, 2010, 921, 2627), d_rows, d_vals, d_bracket, (969, 2144, 989, 2311), 7)
expr_panel((1155, 2009, 1942, 2628), e_rows, e_vals, [], (1990, 2157, 2010, 2323), 10)

# ---------- panel letters ----------
for s, x, y in [('A', 1993, 32), ('B', 792, 887), ('C', 1985, 887), ('D', 1012, 1987), ('E', 1995, 1987)]:
    txt(x, y, s, fontsize=27, ha='center', va='center')

fig.savefig('out.png', dpi=100, facecolor='white')
